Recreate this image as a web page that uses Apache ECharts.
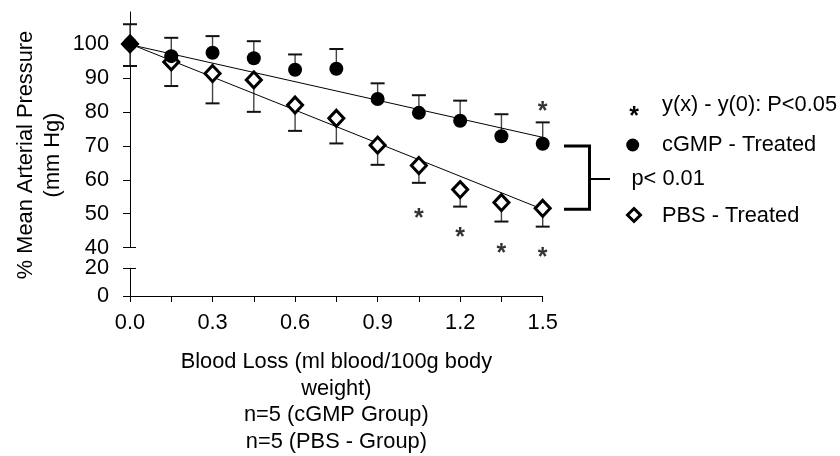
<!DOCTYPE html>
<html>
<head>
<meta charset="utf-8">
<script src="https://cdn.jsdelivr.net/npm/echarts@6.0.0/dist/echarts.min.js"></script>
<style>
  html, body { margin: 0; padding: 0; background: #fff; }
  #chart { width: 840px; height: 456px; }
</style>
</head>
<body>
<div id="chart"></div>
<script>
// ===== data =====
const xValues   = [0, 0.15, 0.3, 0.45, 0.6, 0.75, 0.9, 1.05, 1.2, 1.35, 1.5];
const cgmpMean  = [100, 96.4, 97.4, 95.8, 92.4, 92.7, 83.8, 79.7, 77.4, 72.8, 70.6];
const cgmpUpper = [105.8, 101.8, 102.3, 100.8, 96.9, 98.5, 88.4, 84.9, 83.3, 79.3, 76.9];
const pbsMean   = [100, 94.7, 91.3, 89.4, 82.0, 78.1, 70.2, 64.2, 57.1, 53.3, 51.6];
const pbsLower  = [93.5, 87.6, 82.5, 80.0, 74.4, 70.7, 64.4, 59.1, 52.1, 47.7, 46.2];
const cgmpFit   = [[0, 99.8], [1.5, 72.5]];
const pbsFit    = [[0, 100], [1.5, 51.3]];
const starX     = [1.5, 1.05, 1.2, 1.35, 1.5];
const starY     = [81.8, 50.3, 44.6, 39.9, 38.6];
const xLabelValues = [0, 0.3, 0.6, 0.9, 1.2, 1.5];
const xTickValues  = [0, 0.15, 0.3, 0.45, 0.6, 0.75, 0.9, 1.05, 1.2, 1.35, 1.5];
const yUpperTicks  = [40, 50, 60, 70, 80, 90, 100];
const yLowerTicks  = [0, 20];

const FONT = 'Liberation Sans, Arial, sans-serif';
const FS = 21.8;
const STAR_FS = 25;

const chart = echarts.init(document.getElementById('chart'));

// error bar: stem from mean to limit, cap at limit
function errorBar(params, api) {
  const p0 = api.coord([api.value(0), api.value(1)]);
  const p1 = api.coord([api.value(0), api.value(2)]);
  return {
    type: 'group',
    children: [
      { type: 'line', shape: { x1: p0[0], y1: p0[1], x2: p1[0], y2: p1[1] },
        style: { stroke: '#444', lineWidth: 1.4 } },
      { type: 'line', shape: { x1: p1[0] - 7, y1: p1[1], x2: p1[0] + 7, y2: p1[1] },
        style: { stroke: '#111', lineWidth: 2 } }
    ]
  };
}

const cgmpPts = xValues.map((x, i) => [x, cgmpMean[i]]);
const pbsPts = xValues.map((x, i) => [x, pbsMean[i]]);
const cgmpErr = xValues.map((x, i) => [x, cgmpMean[i], cgmpUpper[i]]);
const pbsErr = xValues.map((x, i) => [x, pbsMean[i], pbsLower[i]]);
const stars = starX.map((x, i) => [x, starY[i]]);

const tickLabel = { color: '#000', fontFamily: FONT, fontSize: FS };

const option = {
  animation: false,
  grid: [
    { left: 130, width: 412.7, top: 12, height: 235.7 },
    { left: 130, width: 412.7, top: 268.3, height: 28.4 }
  ],
  xAxis: [
    { gridIndex: 0, type: 'value', min: 0, max: 1.5, show: false },
    {
      gridIndex: 1, type: 'value', min: 0, max: 1.5,
      splitLine: { show: false },
      axisLine: { lineStyle: { color: '#000', width: 1 } },
      axisTick: { length: 6, lineStyle: { color: '#000' }, customValues: xTickValues },
      axisLabel: Object.assign({ margin: 16, customValues: xLabelValues,
        formatter: v => v.toFixed(1) }, tickLabel),
      name: 'Blood Loss (ml blood/100g body\nweight)\nn=5 (cGMP Group)\nn=5 (PBS - Group)',
      nameLocation: 'middle',
      nameGap: 53,
      nameTextStyle: { color: '#000', fontFamily: FONT, fontSize: FS, lineHeight: 26.5 }
    }
  ],
  yAxis: [
    {
      gridIndex: 0, type: 'value', min: 40, max: 109.4,
      splitLine: { show: false },
      axisLine: { show: true, lineStyle: { color: '#000', width: 1 } },
      axisTick: { show: true, length: 7, lineStyle: { color: '#000' }, customValues: yUpperTicks },
      axisLabel: Object.assign({ margin: 21, customValues: yUpperTicks }, tickLabel)
    },
    {
      gridIndex: 1, type: 'value', min: 0, max: 20,
      splitLine: { show: false },
      axisLine: { show: true, onZero: false, lineStyle: { color: '#000', width: 1 } },
      axisTick: { show: true, length: 7, lineStyle: { color: '#000' }, customValues: yLowerTicks },
      axisLabel: Object.assign({ margin: 21, customValues: yLowerTicks }, tickLabel)
    },
    // right half of the break caps
    {
      gridIndex: 0, type: 'value', min: 40, max: 109.4, position: 'left',
      splitLine: { show: false }, axisLine: { show: false }, axisLabel: { show: false },
      axisTick: { show: true, inside: true, length: 6, lineStyle: { color: '#000' }, customValues: [40] }
    },
    {
      gridIndex: 1, type: 'value', min: 0, max: 20, position: 'left',
      splitLine: { show: false }, axisLine: { show: false }, axisLabel: { show: false },
      axisTick: { show: true, inside: true, length: 6, lineStyle: { color: '#000' }, customValues: [20] }
    }
  ],
  series: [
    { type: 'custom', xAxisIndex: 0, yAxisIndex: 0, renderItem: errorBar, data: pbsErr, z: 1, clip: false },
    { type: 'custom', xAxisIndex: 0, yAxisIndex: 0, renderItem: errorBar, data: cgmpErr, z: 1, clip: false },
    { type: 'line', xAxisIndex: 0, yAxisIndex: 0, data: cgmpFit, symbol: 'none', z: 2,
      lineStyle: { color: '#000', width: 1 } },
    { type: 'line', xAxisIndex: 0, yAxisIndex: 0, data: pbsFit, symbol: 'none', z: 2,
      lineStyle: { color: '#000', width: 1 } },
    { type: 'scatter', xAxisIndex: 0, yAxisIndex: 0, data: pbsPts, symbol: 'diamond', symbolSize: [15, 16], z: 3,
      itemStyle: { color: '#fff', borderColor: '#000', borderWidth: 3, opacity: 1 } },
    { type: 'scatter', xAxisIndex: 0, yAxisIndex: 0, data: cgmpPts, symbol: 'circle', symbolSize: 14, z: 4,
      itemStyle: { color: '#000', opacity: 1 } },
    { type: 'scatter', xAxisIndex: 0, yAxisIndex: 0, data: stars, symbolSize: 1, clip: false, z: 5,
      itemStyle: { color: 'rgba(0,0,0,0)' },
      label: { show: true, position: 'inside', formatter: '*', offset: [0, 6],
        color: '#000', fontFamily: FONT, fontSize: STAR_FS, fontWeight: 'bold' } }
  ],
  graphic: [
    // y axis title
    { type: 'text', x: 39, y: 155, rotation: Math.PI / 2,
      style: { text: '% Mean Arterial Pressure\n(mm Hg)', fill: '#000', font: FS + 'px ' + FONT,
        align: 'center', verticalAlign: 'middle', lineHeight: 27 } },
    // bracket
    { type: 'polyline', shape: { points: [[564, 146], [589.5, 146], [589.5, 209.3], [564, 209.3]] },
      style: { stroke: '#000', lineWidth: 3, fill: null } },
    { type: 'line', shape: { x1: 589.5, y1: 179, x2: 610, y2: 179 },
      style: { stroke: '#000', lineWidth: 2 } },
    // legend
    { type: 'text', x: 634, y: 117, style: { text: '*', fill: '#000', font: 'bold ' + STAR_FS + 'px ' + FONT,
        align: 'center', verticalAlign: 'middle' } },
    { type: 'text', x: 662, y: 104.6, style: { text: 'y(x) - y(0): P<0.05', fill: '#000',
        font: FS + 'px ' + FONT, verticalAlign: 'middle' } },
    { type: 'circle', shape: { cx: 632.7, cy: 145, r: 6.5 }, style: { fill: '#000' } },
    { type: 'text', x: 662, y: 145, style: { text: 'cGMP - Treated', fill: '#000',
        font: FS + 'px ' + FONT, verticalAlign: 'middle' } },
    { type: 'text', x: 631.5, y: 178.5, style: { text: 'p< 0.01', fill: '#000',
        font: FS + 'px ' + FONT, verticalAlign: 'middle' } },
    { type: 'polygon', shape: { points: [[634, 208.5], [640.5, 215], [634, 221.5], [627.5, 215]] },
      style: { fill: '#fff', stroke: '#000', lineWidth: 3 } },
    { type: 'text', x: 662, y: 215.5, style: { text: 'PBS - Treated', fill: '#000',
        font: FS + 'px ' + FONT, verticalAlign: 'middle' } }
  ]
};

chart.setOption(option);
</script>
</body>
</html>
